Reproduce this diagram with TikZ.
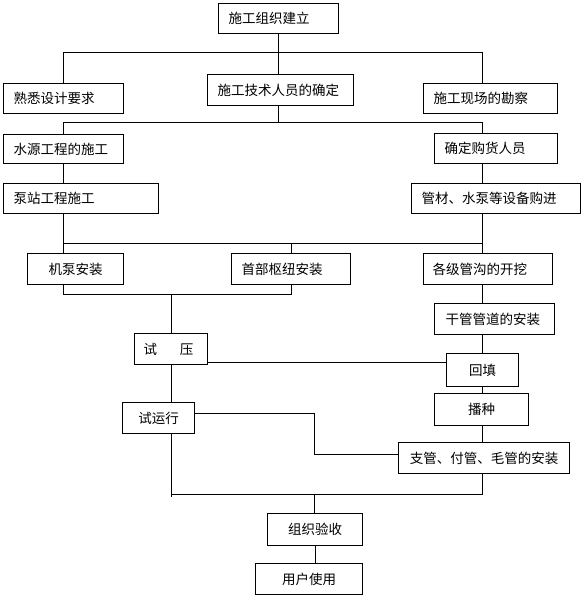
\documentclass[tikz,border=0pt]{standalone}
\usepackage{fontspec}
\setmainfont{Noto Sans CJK SC}
\begin{document}
\begin{tikzpicture}[x=1pt,y=-1pt,
  box/.style={draw, line width=1pt, font=\fontsize{13.5}{15}\selectfont, anchor=north west, inner ysep=0pt},
  lbox/.style={box, align=left, inner xsep=10pt},
  cbox/.style={box, align=center, inner xsep=0pt},
  ln/.style={line width=1pt}]
\useasboundingbox (0,0) rectangle (582,597);

% boxes
\node[lbox, minimum width=120pt, minimum height=30pt, text width=100pt] (top) at (218,3) {施工组织建立};
\node[lbox, minimum width=146pt, minimum height=31pt, text width=126pt] (tech) at (207,74) {施工技术人员的确定};
\node[lbox, minimum width=120pt, minimum height=30pt, text width=100pt] (fam) at (3,83) {熟悉设计要求};
\node[lbox, minimum width=134pt, minimum height=30pt, text width=114pt] (site) at (423,83) {施工现场的勘察};
\node[lbox, minimum width=120pt, minimum height=29pt, text width=100pt] (water) at (3,134) {水源工程的施工};
\node[lbox, minimum width=123pt, minimum height=30pt, text width=103pt] (buyer) at (434,133) {确定购货人员};
\node[lbox, minimum width=155pt, minimum height=30pt, text width=135pt] (pump) at (3,183) {泵站工程施工};
\node[lbox, minimum width=169pt, minimum height=30pt, text width=149pt] (equip) at (411,183) {管材、水泵等设备购进};
\node[cbox, minimum width=96pt, minimum height=31pt] (jibeng) at (27,253) {机泵安装};
\node[lbox, minimum width=119pt, minimum height=31pt, text width=99pt] (shoubu) at (231,253) {首部枢纽安装};
\node[lbox, minimum width=129pt, minimum height=31pt, text width=111pt, inner xsep=9pt] (trench) at (423,253) {各级管沟的开挖};
\node[lbox, minimum width=120pt, minimum height=31pt, text width=98pt, inner xsep=11pt] (main) at (434,303) {干管管道的安装};
\node[lbox, minimum width=73pt, minimum height=31pt, text width=55pt, inner xsep=9pt] (press) at (134,333) {试\hspace{23pt}压};
\node[cbox, minimum width=72pt, minimum height=33pt] (fill) at (446,353) {回填};
\node[cbox, minimum width=94pt, minimum height=32pt] (sow) at (434,393) {播种};
\node[cbox, minimum width=72pt, minimum height=31pt] (trial) at (122,402) {试运行};
\node[cbox, minimum width=171pt, minimum height=31pt] (branch) at (398,442) {支管、付管、毛管的安装};
\node[cbox, minimum width=95pt, minimum height=32pt] (accept) at (267,513) {组织验收};
\node[cbox, minimum width=107pt, minimum height=31pt] (use) at (255,563) {用户使用};

% junction coordinates
\coordinate (h1l) at (63,52);
\coordinate (h1r) at (482,52);
\coordinate (h2l) at (63,122);
\coordinate (h2r) at (482,122);
\coordinate (h3l) at (63,243);
\coordinate (h3r) at (482,243);
\coordinate (h4l) at (63,294);
\coordinate (h4r) at (291,294);
\coordinate (hy) at (0,362);
\coordinate (k1) at (314,413);
\coordinate (k2) at (314,454);
\coordinate (b1) at (171,494);
\coordinate (b1t) at (171,497);
\coordinate (b2) at (482,494);
\coordinate (b3) at (314,494);

% connectors
\draw[ln] (top.south) -- (top.south |- tech.north);
\draw[ln] (h1l |- fam.north) -- (h1l) -- (h1r) -- (h1r |- site.north);
\draw[ln] (top.south |- tech.south) -- (top.south |- h2l);
\draw[ln] (h2l |- water.north) -- (h2l) -- (h2r) -- (h2r |- buyer.north);
\draw[ln] (h2l |- water.south) -- (h2l |- pump.north);
\draw[ln] (h2r |- buyer.south) -- (h2r |- equip.north);
\draw[ln] (h3l |- pump.south) -- (h3l) -- (h3r);
\draw[ln] (h3r |- equip.south) -- (h3r |- trench.north);
\draw[ln] (h3l) -- (h3l |- jibeng.north);
\draw[ln] (shoubu.north |- h3l) -- (shoubu.north);
\draw[ln] (h4l |- jibeng.south) -- (h4l) -- (h4r) -- (h4r |- shoubu.south);
\draw[ln] (h4l -| press.north) -- (press.north);
\draw[ln] (h3r |- trench.south) -- (h3r |- main.north);
\draw[ln] (h3r |- main.south) -- (h3r |- fill.north);
\draw[ln] (h3r |- fill.south) -- (h3r |- sow.north);
\draw[ln] (h3r |- sow.south) -- (h3r |- branch.north);
\draw[ln] (press.east |- hy) -- (fill.west |- hy);
\draw[ln] (press.south) -- (press.south |- trial.north);
\draw[ln] (trial.east |- k1) -- (k1) -- (k2) -- (branch.west |- k2);
\draw[ln] (b1 |- trial.south) -- (b1t);
\draw[ln] (b1) -- (b2) -- (b2 |- branch.south);
\draw[ln] (b3) -- (b3 |- accept.north);
\draw[ln] (accept.south) -- (accept.south |- use.north);
\end{tikzpicture}
\end{document}
